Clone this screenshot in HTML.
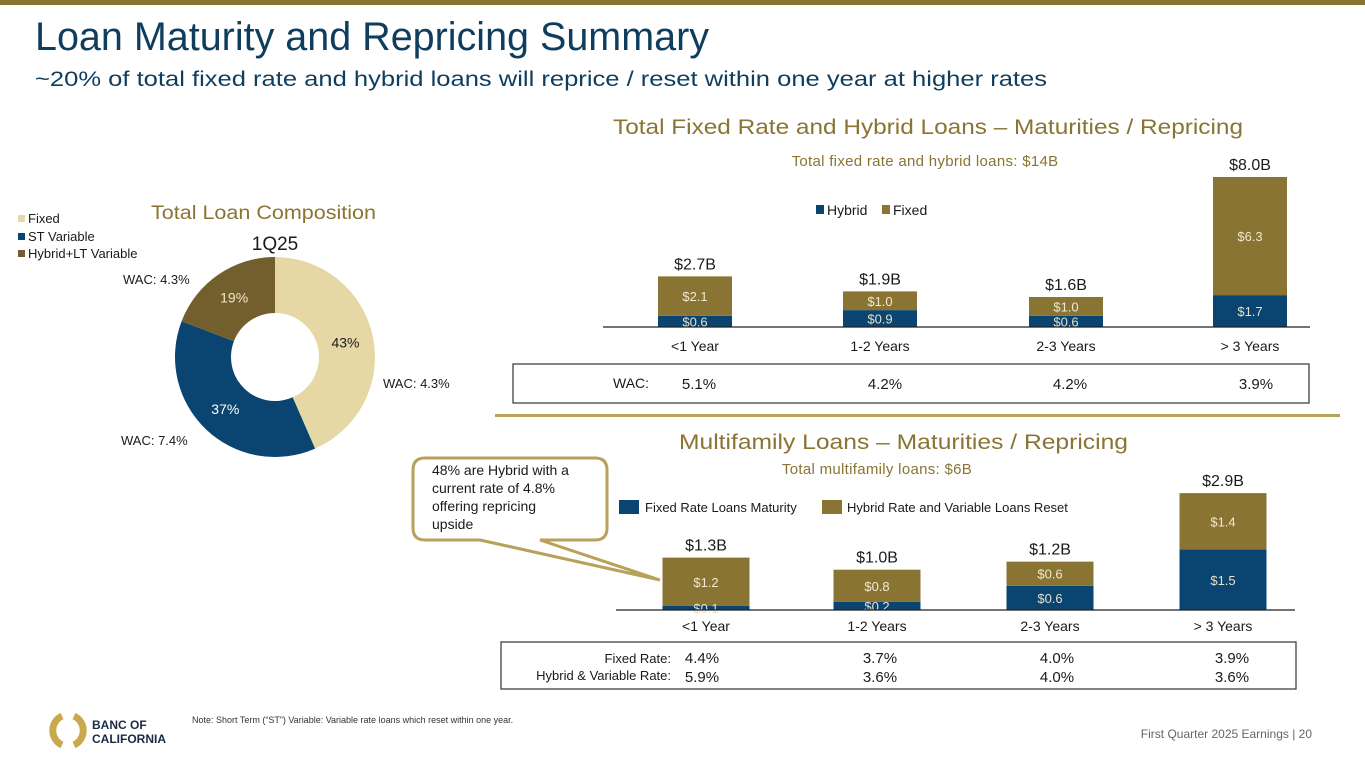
<!DOCTYPE html>
<html><head><meta charset="utf-8"><style>
body{margin:0;width:1365px;height:768px;overflow:hidden;background:#fff;font-family:"Liberation Sans",sans-serif}
svg text{font-family:"Liberation Sans",sans-serif}
</style></head><body>
<svg id="s" width="1365" height="768" xmlns="http://www.w3.org/2000/svg">
<rect x="0" y="0" width="1365" height="5" fill="#8a7433"/>
<text x="35" y="50" font-size="39.5" fill="#0e3d5e">Loan Maturity and Repricing Summary</text>
<text x="35" y="86" font-size="21.5" fill="#0e3d5e" textLength="1012" lengthAdjust="spacingAndGlyphs">~20% of total fixed rate and hybrid loans will reprice / reset within one year at higher rates</text>

<text x="151" y="219" font-size="19" fill="#8a7433" textLength="225" lengthAdjust="spacingAndGlyphs">Total Loan Composition</text>
<text x="275" y="250" font-size="19" fill="#1a1a1a" text-anchor="middle">1Q25</text>
<g id="donut"></g>
<g font-size="13" fill="#1a1a1a">
<rect x="18" y="215" width="7" height="7" fill="#e6d8a5"/><text x="28" y="223">Fixed</text>
<rect x="18" y="233" width="7" height="7" fill="#0a4470"/><text x="28" y="241">ST Variable</text>
<rect x="18" y="250" width="7" height="7" fill="#735f2d"/><text x="28" y="258">Hybrid+LT Variable</text>
</g>
<g font-size="13" fill="#1a1a1a">
<text x="123" y="284">WAC: 4.3%</text>
<text x="383" y="388">WAC: 4.3%</text>
<text x="121" y="445">WAC: 7.4%</text>
</g>

<text x="613" y="134" font-size="21.5" fill="#8a7433" textLength="630" lengthAdjust="spacingAndGlyphs">Total Fixed Rate and Hybrid Loans – Maturities / Repricing</text>
<text x="925" y="166" font-size="15" fill="#8a7433" text-anchor="middle" letter-spacing="0.3">Total fixed rate and hybrid loans: $14B</text>
<g font-size="14" fill="#1a1a1a">
<rect x="816" y="205" width="8" height="9" fill="#0a4470"/><text x="827" y="215">Hybrid</text>
<rect x="882" y="205" width="8" height="9" fill="#8a7433"/><text x="893" y="215">Fixed</text>
</g>
<g id="top"></g>
<rect x="513" y="364" width="796" height="39" fill="none" stroke="#333" stroke-width="1.2"/>
<text x="613" y="388" font-size="14" fill="#1a1a1a">WAC:</text>
<g id="topwac" font-size="15" fill="#1a1a1a" text-anchor="middle"></g>
<rect x="495" y="414" width="845" height="3" fill="#b8a15a"/>

<text x="679" y="449" font-size="21.5" fill="#8a7433" textLength="449" lengthAdjust="spacingAndGlyphs">Multifamily Loans – Maturities / Repricing</text>
<text x="877" y="474" font-size="15" fill="#8a7433" text-anchor="middle" letter-spacing="0.3">Total multifamily loans: $6B</text>
<g font-size="13" fill="#1a1a1a">
<rect x="619" y="500" width="20" height="14" fill="#0a4470"/><text x="645" y="512">Fixed Rate Loans Maturity</text>
<rect x="822" y="500" width="20" height="14" fill="#8a7433"/><text x="847" y="512">Hybrid Rate and Variable Loans Reset</text>
</g>
<g id="bot"></g>
<rect x="501" y="642" width="795" height="47" fill="none" stroke="#333" stroke-width="1.2"/>
<text x="671" y="663" font-size="13" fill="#1a1a1a" text-anchor="end">Fixed Rate:</text>
<text x="671" y="680" font-size="13" fill="#1a1a1a" text-anchor="end">Hybrid &amp; Variable Rate:</text>
<g id="botwac" font-size="15" fill="#1a1a1a" text-anchor="middle"></g>

<g>
<path d="M425 458 h170 q12 0 12 12 v58 q0 12 -12 12 H540 L660 580 L480 540 h-55 q-12 0 -12 -12 v-58 q0 -12 12 -12z" fill="#fff" stroke="#b8a15a" stroke-width="3"/>
<text font-size="14" fill="#1a1a1a"><tspan x="432" y="475">48% are Hybrid with a</tspan><tspan x="432" y="493">current rate of 4.8%</tspan><tspan x="432" y="511">offering repricing</tspan><tspan x="432" y="529">upside</tspan></text>
</g>

<g>
<path d="M62 716 a16 16 0 0 0 0 29" fill="none" stroke="#c9a94d" stroke-width="7"/>
<path d="M74 716 a16 16 0 0 1 0 29" fill="none" stroke="#c9a94d" stroke-width="7"/>
<text x="92" y="729" font-size="12" font-weight="bold" fill="#1a2a44">BANC OF</text>
<text x="92" y="743" font-size="12" font-weight="bold" fill="#1a2a44">CALIFORNIA</text>
</g>
<text x="192" y="723" font-size="9" fill="#333">Note: Short Term (“ST”) Variable: Variable rate loans which reset within one year.</text>
<text x="1312" y="738" font-size="12" fill="#666" text-anchor="end">First Quarter 2025 Earnings |  20</text>
</svg>
<script>
const NS="http://www.w3.org/2000/svg";
const donutLabels=["Fixed","ST Variable","Hybrid+LT Variable"];
const donutValues=[43,37,19];
const topCategories=["<1 Year","1-2 Years","2-3 Years","> 3 Years"];
const topHybrid=[0.6,0.9,0.6,1.7];
const topFixed=[2.1,1.0,1.0,6.3];
const topTotals=["$2.7B","$1.9B","$1.6B","$8.0B"];
const topWac=["5.1%","4.2%","4.2%","3.9%"];
const botCategories=["<1 Year","1-2 Years","2-3 Years","> 3 Years"];
const botFixed=[0.1,0.2,0.6,1.5];
const botHybrid=[1.2,0.8,0.6,1.4];
const botTotals=["$1.3B","$1.0B","$1.2B","$2.9B"];
const botFixedRate=["4.4%","3.7%","4.0%","3.9%"];
const botHybridRate=["5.9%","3.6%","4.0%","3.6%"];

function mk(tag,attrs,parent,txt){const e=document.createElementNS(NS,tag);for(const k in attrs)e.setAttribute(k,attrs[k]);if(txt!==undefined)e.textContent=txt;parent.appendChild(e);return e;}

(function(){
const g=document.getElementById("donut");const cx=275,cy=357,R=100,r=44;
const cols=["#e6d8a5","#0a4470","#735f2d"],tcol=["#1a1a1a","#fff","#f0e6c8"];
const sum=donutValues.reduce((a,b)=>a+b,0);let a0=-Math.PI/2;
donutValues.forEach((v,i)=>{
 const a1=a0+v/sum*2*Math.PI,lg=(a1-a0)>Math.PI?1:0;
 const p=(rad,a)=>[cx+rad*Math.cos(a),cy+rad*Math.sin(a)];
 const [x0,y0]=p(R,a0),[x1,y1]=p(R,a1),[x2,y2]=p(r,a1),[x3,y3]=p(r,a0);
 const path=mk("path",{d:`M${x0} ${y0}A${R} ${R} 0 ${lg} 1 ${x1} ${y1}L${x2} ${y2}A${r} ${r} 0 ${lg} 0 ${x3} ${y3}Z`,fill:cols[i]},g);
 
 
 const am=(a0+a1)/2,[tx,ty]=p(72,am);
 const t=mk("text",{x:tx,y:ty+5,"font-size":14,fill:tcol[i],"text-anchor":"middle"},g,v+"%");
 
 
 a0=a1;});
})();

function stack(gid,cats,lower,upper,totals,centers,bw,base,scale,axisX0,axisX1,catY,lowCol,upCol){
 const g=document.getElementById(gid);
 cats.forEach((c,i)=>{
  const hL=lower[i]*scale,hU=upper[i]*scale;
  const b1=mk("rect",{x:centers[i]-bw/2,y:base-hL,width:bw,height:hL,fill:lowCol},g);
  
  
  const b2=mk("rect",{x:centers[i]-bw/2,y:base-hL-hU,width:bw,height:hU,fill:upCol},g);
  
  
  const lt=mk("text",{x:centers[i],y:Math.min(base-hL/2+5,base+3),"font-size":13,fill:"#e8e0c8","text-anchor":"middle"},g,"$"+lower[i].toFixed(1));
  
  
  const ut=mk("text",{x:centers[i],y:base-hL-hU/2+5,"font-size":13,fill:"#f0e8d0","text-anchor":"middle"},g,"$"+upper[i].toFixed(1));
  
  
  const tt=mk("text",{x:centers[i],y:base-hL-hU-7,"font-size":16,fill:"#1a1a1a","text-anchor":"middle"},g,totals[i]);
  
  
  const ct=mk("text",{x:centers[i],y:catY,"font-size":14,fill:"#1a1a1a","text-anchor":"middle"},g,c);
  
  
 });
 const ax=mk("line",{x1:axisX0,x2:axisX1,y1:base,y2:base,stroke:"#222","stroke-width":1.2},g);
 
 
}
const topX=[695,880,1066,1250],botX=[706,877,1050,1223];
stack("top",topCategories,topHybrid,topFixed,topTotals,topX,74,327,18.75,603,1310,351,"#0a4470","#8a7433");
stack("bot",botCategories,botFixed,botHybrid,botTotals,botX,87,610,40.3,616,1295,631,"#0a4470","#8a7433");
const tw=document.getElementById("topwac");
topWac.forEach((v,i)=>{const t=mk("text",{x:[699,885,1070,1256][i],y:389},tw,v);
 
 });
const bw=document.getElementById("botwac");
botFixedRate.forEach((v,i)=>{const t=mk("text",{x:[702,880,1057,1232][i],y:663},bw,v);
 
 });
botHybridRate.forEach((v,i)=>{const t=mk("text",{x:[702,880,1057,1232][i],y:682},bw,v);
 
 });
</script>
</body></html>
